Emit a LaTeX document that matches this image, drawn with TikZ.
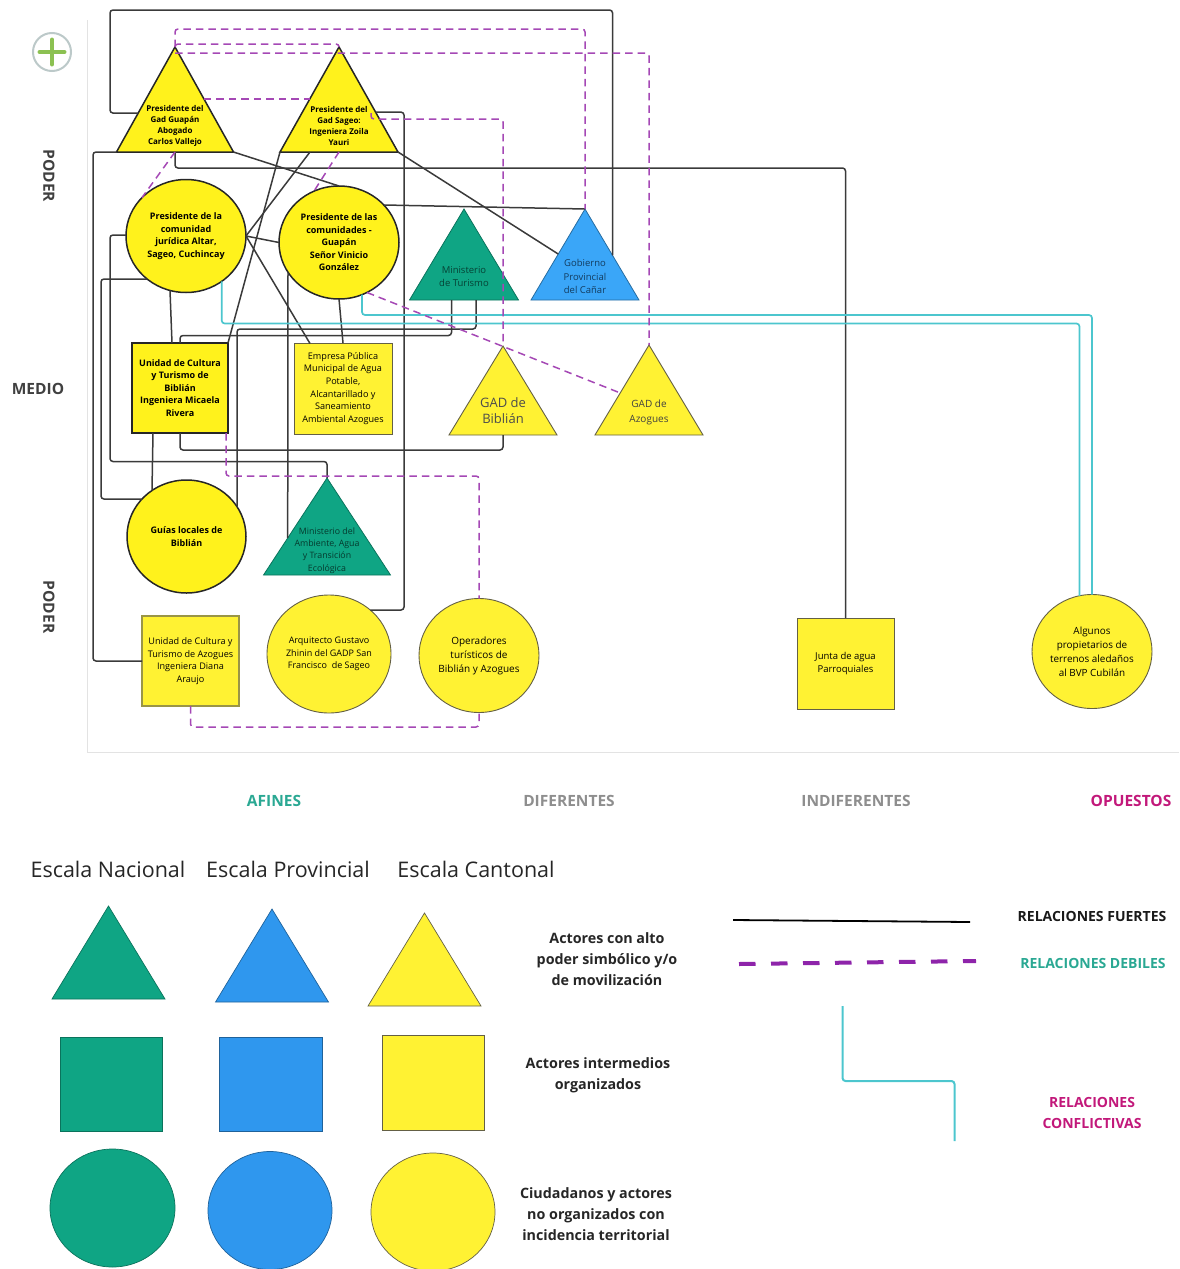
\documentclass[tikz,border=0pt]{standalone}
\usepackage{fontspec}
\setmainfont{Open Sans}
\usetikzlibrary{calc,shapes.geometric}
\definecolor{yel}{HTML}{FFF233}
\definecolor{yelb}{HTML}{FFF21C}
\definecolor{grn}{HTML}{0FA584}
\definecolor{blu}{HTML}{2F97EE}
\definecolor{blub}{HTML}{3AA6F8}
\definecolor{wire}{HTML}{3A3A3A}
\definecolor{weak}{HTML}{A548B5}
\definecolor{conf}{HTML}{4CC6CE}
\definecolor{txtteal}{HTML}{2AA893}
\definecolor{txtgray}{HTML}{8E8E8E}
\definecolor{txtmag}{HTML}{C2187A}
\definecolor{plusg}{HTML}{8CC152}
\definecolor{ringg}{HTML}{BCC9C9}
\definecolor{keyp}{HTML}{8E24AA}
\newcommand{\fs}[2]{\fontsize{#1}{#2}\selectfont}
\newcommand{\tri}[6]{%
  \pgfmathsetmacro\tcy{(#3+#5)/2}\pgfmathsetmacro\thh{#5-#3}\pgfmathsetmacro\tww{2*#4}%
  \node[inner sep=0pt,outer sep=0pt,minimum width=\tww pt,minimum height=\thh pt] (#1) at (#2,\tcy) {};
  \path[#6,line join=miter] (#1.north) -- (#1.south west) -- (#1.south east) -- cycle;}
\tikzset{
  strong/.style={draw=wire,line width=1.5pt,rounded corners=3pt},
  feeble/.style={draw=weak,line width=1.5pt,dash pattern=on 7.5pt off 5pt,rounded corners=3pt},
  conflict/.style={draw=conf,line width=1.7pt,rounded corners=3pt},
  ybold/.style={fill=yelb,draw=black!85,line width=1.5pt},
  ythin/.style={fill=yel,draw=black!70!yellow,line width=0.9pt},
  gthin/.style={fill=grn,draw=grn!70!black,line width=0.8pt},
  bthin/.style={fill=blub,draw=blub!65!black,line width=0.8pt},
  lgreen/.style={fill=grn,draw=grn!70!black,line width=0.7pt},
  lblue/.style={fill=blu,draw=blu!65!black,line width=0.7pt},
  lyel/.style={fill=yel,draw=black!70!yellow,line width=0.7pt},
  oval/.style={ellipse,inner sep=0pt,outer sep=0pt,align=center},
  box/.style={rectangle,inner sep=0pt,outer sep=0pt,align=center},
  axisline/.style={draw=black!11,line width=1.2pt},
  axlabel/.style={font=\fs{15.5}{18}\bfseries},
  leglabel/.style={font=\fs{14.3}{21}\bfseries,align=center,text=black!85},
  scale label/.style={font=\fs{21.5}{26},text=black!85},
}
\begin{document}
\begin{tikzpicture}[x=1pt,y=-1pt]
\useasboundingbox (0,0) rectangle (1179,1269);
% axes and icon
\draw[axisline] (87.5,20) -- (87.5,752.5) -- (1179,752.5);
\draw[draw=ringg,line width=2pt] (52,52) circle (19);
\draw[draw=plusg,line width=4pt,line cap=round] (39.5,52) -- (64.5,52) (52,39.5) -- (52,64.5);
% shapes
\node[oval,ybold,minimum width=120pt,minimum height=113pt,font=\fs{9}{12.5}\bfseries] (c1) at (186,236) {Presidente de la\\comunidad\\jurídica Altar,\\Sageo, Cuchincay};
\node[oval,ybold,minimum width=120pt,minimum height=113pt,font=\fs{9}{12.5}\bfseries] (c2) at (339,242.5) {Presidente de las\\comunidades -\\Guapán\\Señor Vinicio\\González};
\node[oval,ybold,minimum width=119pt,minimum height=113pt,font=\fs{9}{12.5}\bfseries] (cgu) at (186.5,536.5) {Guías locales de\\Biblián};
\node[oval,ythin,minimum width=124pt,minimum height=118pt,font=\fs{9}{12.5}] (car) at (329,654) {Arquitecto Gustavo\\Zhinin del GADP San\\Francisco\ \ de Sageo};
\node[oval,ythin,minimum width=120pt,minimum height=114pt,font=\fs{10}{14}] (cop) at (479,655.5) {Operadores\\turísticos de\\Biblián y Azogues};
\node[oval,ythin,minimum width=120pt,minimum height=114pt,font=\fs{9.9}{14}] (cal) at (1092,651.5) {Algunos\\propietarios de\\terrenos aledaños\\al BVP Cubilán};
\node[box,ybold,minimum width=96pt,minimum height=90pt,font=\fs{9}{12.5}\bfseries] (rub) at (180,388) {Unidad de Cultura\\y Turismo de\\Biblián\\Ingeniera Micaela\\Rivera};
\node[box,ythin,minimum width=98pt,minimum height=91pt,font=\fs{9.1}{12.6}] (rem) at (343,388.5) {Empresa Pública\\Municipal de Agua\\Potable,\\Alcantarillado y\\Saneamiento\\Ambiental Azogues};
\node[box,ythin,draw=black!45!yellow,line width=1.2pt,minimum width=97pt,minimum height=90pt,font=\fs{9.1}{12.6}] (rua) at (190.5,661) {Unidad de Cultura y\\Turismo de Azogues\\Ingeniera Diana\\Araujo};
\node[box,ythin,minimum width=97pt,minimum height=91pt,font=\fs{9.5}{13.5}] (rju) at (845.5,663.5) {Junta de agua\\Parroquiales};
\tri{tga}{175}{47}{58.5}{152}{ybold}
\tri{tsa}{339}{47}{59}{152}{ybold}
\tri{ttu}{464}{209}{54.5}{300}{gthin}
\tri{tgo}{585}{209}{54}{300}{bthin}
\tri{tbi}{503}{346}{54}{435}{ythin}
\tri{taz}{649}{345}{54}{435}{ythin}
\tri{tam}{327}{478}{63.5}{575}{gthin}
% strong relations
\draw[strong] ($(tga.south west)!0.371!(tga.north)$) -| (110,10) -| ($(tgo.south east)!0.49!(tgo.north)$);
\draw[strong] (tga.south) |- (845.5,168) -- (rju.north);
\draw[strong] (tga.south west) -| (93,661) -- (rua.west);
\draw[strong] (tga.south east) -- (c2.north);
\draw[strong] (tsa.south east) -- ($(tgo.south west)!0.505!(tgo.north)$);
\draw[strong] ($(tsa.south east)!0.38!(tsa.north)$) -| (404,610) -- ($(car)+(41.3,-44)$);
\draw[strong] (tsa.south west) -- (rub.north east);
\draw[strong] ([xshift=-29pt]tsa.south) -- (c1.east);
\draw[strong] (c1.east) -- (c2.west);
\draw[strong] (c1.east) -- ($(rem)+(-33,-45)$);
\draw[strong] ($(c1)+(-60,-1)$) -| (110,461.5) -| (tam.north);
\draw[strong] ($(c1)+(-39,43)$) -| (101,499) -- ($(cgu)+(-44.5,-37.5)$);
\draw[strong] ($(c1)+(-16,54.5)$) -- ($(rub)+(-8,-45)$);
\draw[strong] ($(rub)+(-27,45)$) -- ($(cgu)+(-34.5,-46)$);
\draw[strong] (rub.south) |- (503,450) -- (tbi.south);
\draw[strong] ([xshift=-12.5pt]ttu.south) |- (180,335.5) -- (rub.north);
\draw[strong] ([xshift=12pt]ttu.south) |- (237,329) -- ($(cgu)+(50.5,-30)$);
\draw[strong] ($(c2)+(-51,30)$) -- ($(tam.south west)!0.381!(tam.north)$);
\draw[strong] (c2.south) -- (rem.north);
\draw[strong] ($(c2)+(45,-37.5)$) -- (tgo.north);
% conflicting relations
\draw[conflict] ($(c1)+(35.7,45.4)$) |- (1079.5,323.5) -- ($(cal)+(-12.5,-55.7)$);
\draw[conflict] ($(c2)+(23,52.2)$) |- (1092,315) -- (cal.north);
% weak relations
\draw[feeble] (tga.north) |- (585,29) -- (tgo.north);
\draw[feeble] (tga.north) |- (339,44) -- (tsa.north);
\draw[feeble] ([yshift=-6pt]tga.north) -| (taz.north);
\draw[feeble] ($(tga.south east)!0.505!(tga.north)$) -- ($(tsa.south west)!0.505!(tsa.north)$);
\draw[feeble] ($(tsa)+(32,13.5)$) |- (503,119) -- (tbi.north);
\draw[feeble] (tga.south) -- ($(c1)+(-44,-38.4)$);
\draw[feeble] (tsa.south) -- ($(c2)+(-25,-51.4)$);
\draw[feeble] ($(c2)+(28,50)$) -- ($(taz.south west)!0.467!(taz.north)$);
\draw[feeble] ($(rub)+(46,45)$) |- (479,476) -- (cop.north);
\draw[feeble] (rua.south) |- (479,727) -- (cop.south);
% triangle labels
\node[align=center,inner sep=0pt,font=\fs{8}{11}\bfseries] (tgat) at (175,126) {Presidente del\\Gad Guapán\\Abogado\\Carlos Vallejo};
\node[align=center,inner sep=0pt,font=\fs{8}{11}\bfseries] (tsat) at (339,126) {Presidente del\\Gad Sageo:\\Ingeniera Zoila\\Yauri};
\node[align=center,inner sep=0pt,font=\fs{9.5}{13},text=grn!40!black] (ttut) at (464,276.5) {Ministerio\\de Turismo};
\node[align=center,inner sep=0pt,font=\fs{9.5}{13.2},text=blu!40!black] (tgot) at (585,276.5) {Gobierno\\Provincial\\del Cañar};
\node[align=center,inner sep=0pt,font=\fs{13}{16},text=black!70] (tbit) at (503,411) {GAD de\\Biblián};
\node[align=center,inner sep=0pt,font=\fs{10}{15},text=black!75] (tazt) at (649,412) {GAD de\\Azogues};
\node[align=center,inner sep=0pt,font=\fs{8.8}{12.2},text=grn!35!black] (tamt) at (327,550.5) {Ministerio del\\Ambiente, Agua\\y Transición\\Ecológica};
% axis labels
\node[axlabel,rotate=-90,text=black!75] (yp1) at (49,176) {PODER};
\node[axlabel,text=black!75] (ym) at (38,389) {MEDIO};
\node[axlabel,rotate=-90,text=black!75] (yp2) at (49,607) {PODER};
\node[axlabel,text=txtteal] (xa) at (274,801) {AFINES};
\node[axlabel,text=txtgray] (xd) at (569,801) {DIFERENTES};
\node[axlabel,text=txtgray] (xi) at (856,801) {INDIFERENTES};
\node[axlabel,text=txtmag] (xo) at (1131,801) {OPUESTOS};
% legend
\node[scale label] (e1) at (108,869) {Escala Nacional};
\node[scale label] (e2) at (288,869) {Escala Provincial};
\node[scale label] (e3) at (476,869) {Escala Cantonal};
\tri{lt1}{108.5}{906}{56.5}{999}{lgreen}
\tri{lt2}{272}{909}{56.5}{1002}{lblue}
\tri{lt3}{424.5}{913}{56.5}{1006}{lyel}
\node[box,lgreen,minimum width=102pt,minimum height=94pt] (ls1) at (111,1084) {};
\node[box,lblue,minimum width=103pt,minimum height=94pt] (ls2) at (270.5,1084) {};
\node[box,lyel,minimum width=102pt,minimum height=95pt] (ls3) at (433,1082.5) {};
\node[oval,lgreen,minimum width=125pt,minimum height=118pt] (lc1) at (112.5,1208) {};
\node[oval,lblue,minimum width=124pt,minimum height=118pt] (lc2) at (270,1210.5) {};
\node[oval,lyel,minimum width=124pt,minimum height=118pt] (lc3) at (433,1212) {};
\node[leglabel] (ll1) at (607,959) {Actores con alto\\poder simbólico y/o\\de movilización};
\node[leglabel] (ll2) at (598,1075.5) {Actores intermedios\\organizados};
\node[leglabel] (ll3) at (596,1214) {Ciudadanos y actores\\no organizados con\\incidencia territorial};
\coordinate (k1a) at (733,920);
\coordinate (k1b) at (970,922);
\coordinate (k2a) at (739,964);
\coordinate (k2b) at (976,961);
\coordinate (k3a) at (842.5,1006);
\coordinate (k3b) at (954.5,1141);
\draw[black,line width=1.8pt] (k1a) -- (k1b);
\draw[draw=keyp,line width=4pt,dash pattern=on 16.5pt off 15.5pt] (k2a) -- (k2b);
\draw[conflict,line width=2pt] (k3a) |- (954.5,1081) -- (k3b);
\node[font=\fs{14}{18}\bfseries,text=black!90] (kt1) at (1092,916) {RELACIONES FUERTES};
\node[font=\fs{14}{18}\bfseries,text=txtteal] (kt2) at (1093,963) {RELACIONES DEBILES};
\node[font=\fs{14}{20.5}\bfseries,text=txtmag,align=center] (kt3) at (1092,1113) {RELACIONES\\CONFLICTIVAS};
\end{tikzpicture}
\end{document}
